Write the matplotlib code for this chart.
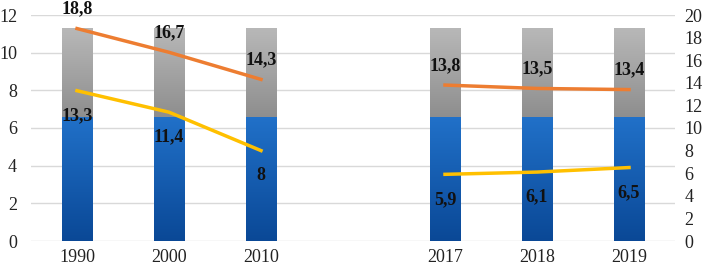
import numpy as np
import matplotlib
matplotlib.use("Agg")
import matplotlib.pyplot as plt
from matplotlib.colors import LinearSegmentedColormap

# ── data ───────────────────────────────────────────────────────────────────────
years      = ["1990", "2000", "2010", "", "2017", "2018", "2019"]
blue_part  = [6.6, 6.6, 6.6, np.nan, 6.6, 6.6, 6.6]
gray_part  = [4.7, 4.7, 4.7, np.nan, 4.7, 4.7, 4.7]
orange_val = [18.8, 16.7, 14.3, np.nan, 13.8, 13.5, 13.4]
yellow_val = [13.3, 11.4, 8.0, np.nan, 5.9, 6.1, 6.5]

plt.rcParams["font.family"] = ["Liberation Serif", "DejaVu Serif"]

fig = plt.figure(figsize=(7.09, 2.71), dpi=100)
ax = fig.add_axes([31 / 709, 30 / 271, 644 / 709, 226 / 271])
ax2 = ax.twinx()

x = np.arange(len(years))
width = 0.33

blue_cmap = LinearSegmentedColormap.from_list("b", ["#0a4896", "#2171c9"])
gray_cmap = LinearSegmentedColormap.from_list("g", ["#8e8e8e", "#b8b8b8"])
grad = np.linspace(0, 1, 256).reshape(-1, 1)

def gradient_bars(bars, cmap):
    for b in bars:
        if np.isnan(b.get_height()):
            continue
        x0, y0 = b.get_x(), b.get_y()
        x1, y1 = x0 + b.get_width(), y0 + b.get_height()
        b.set_facecolor("none")
        im = ax.imshow(grad, cmap=cmap, extent=[x0, x1, y0, y1], origin="lower",
                       aspect="auto", zorder=2)
        im.set_clip_path(b)

bb = ax.bar(x, blue_part, width, zorder=2, edgecolor="none")
gb = ax.bar(x, gray_part, width, bottom=blue_part, zorder=2, edgecolor="none")
gradient_bars(bb, blue_cmap)
gradient_bars(gb, gray_cmap)

ax.set_xlim(-0.5, len(years) - 0.5)
ax.set_ylim(0, 12)
ax.set_yticks(range(0, 13, 2))
ax.set_xticks(x)
ax.set_xticklabels(years)
ax.yaxis.grid(True, color="#d9d9d9", linewidth=1)
ax.set_axisbelow(True)
for s in ax.spines.values():
    s.set_visible(False)
ax.tick_params(axis="both", length=0, labelsize=13, colors="#222222")
ax.tick_params(axis="y", pad=10)
ax.tick_params(axis="x", pad=6)

ax2.plot(x, orange_val, color="#ed7d31", linewidth=2.5, zorder=5)
ax2.plot(x, yellow_val, color="#ffc000", linewidth=2.5, zorder=5)
ax2.set_ylim(0, 20)
ax2.set_yticks(range(0, 21, 2))
for s in ax2.spines.values():
    s.set_visible(False)
ax2.tick_params(axis="y", length=0, labelsize=13, colors="#222222", pad=7)

for xi, v in zip(x, orange_val):
    if np.isnan(v):
        continue
    ax2.annotate(f"{v:g}".replace(".", ","), (xi, v), xytext=(0, 14),
                 textcoords="offset points", ha="center", va="center",
                 fontsize=13, fontweight="bold", color="#111111")
for xi, v in zip(x, yellow_val):
    if np.isnan(v):
        continue
    ax2.annotate(f"{v:g}".replace(".", ","), (xi, v), xytext=(0, -18),
                 textcoords="offset points", ha="center", va="center",
                 fontsize=13, fontweight="bold", color="#111111")

fig.savefig("out.png", dpi=100)
